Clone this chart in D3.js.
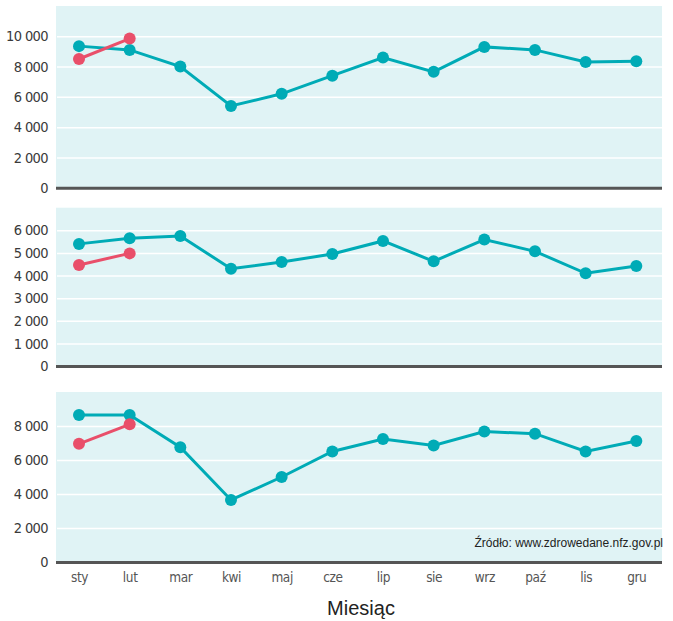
<!DOCTYPE html>
<html><head><meta charset="utf-8">
<script src="https://cdn.jsdelivr.net/npm/d3@7"></script>
<style>
body{margin:0;background:#fff;}
svg{display:block;}
</style></head>
<body>
<script>
const months = ["sty","lut","mar","kwi","maj","cze","lip","sie","wrz","paź","lis","gru"];
// Panel 1
const p1Teal = [9350,9100,8000,5400,6200,7400,8600,7650,9300,9100,8300,8350];
const p1Pink = [8500,9850];
const p1Ticks = [0,2000,4000,6000,8000,10000];
// Panel 2
const p2Teal = [5400,5650,5750,4300,4600,4950,5530,4630,5590,5070,4100,4420];
const p2Pink = [4470,4980];
const p2Ticks = [0,1000,2000,3000,4000,5000,6000];
// Panel 3
const p3Teal = [8650,8650,6750,3650,5000,6500,7230,6850,7670,7550,6500,7120];
const p3Pink = [6950,8100];
const p3Ticks = [0,2000,4000,6000,8000];

const panels = [
  {teal:p1Teal, pink:p1Pink, ticks:p1Ticks, max:12000, top:6, bottom:187.7},
  {teal:p2Teal, pink:p2Pink, ticks:p2Ticks, max:7000, top:207.7, bottom:366},
  {teal:p3Teal, pink:p3Pink, ticks:p3Ticks, max:10000, top:392, bottom:562}
];

const W = 673, H = 621;
const left = 56, right = 662;
const svg = d3.select("body").append("svg").attr("width",W).attr("height",H);
const fmt = d3.formatLocale({decimal:",", thousands:"\u2009", grouping:[3], currency:["",""]}).format(",d");
const fmt2 = v => fmt(v).replace("\u2009"," ");

const x = d3.scalePoint().domain(months).range([79, 636.3]);
const TEAL = "#00abb6", PINK = "#e94f6a";
const condensed = "'Liberation Sans Narrow','DejaVu Sans Condensed',sans-serif";

panels.forEach(p => {
  const y = d3.scaleLinear().domain([0,p.max]).range([p.bottom,p.top]);
  const g = svg.append("g");
  g.append("rect").attr("x",left).attr("y",p.top).attr("width",right-left).attr("height",p.bottom-p.top).attr("fill","#e0f3f5");
  const ax = d3.axisLeft(y).tickValues(p.ticks).tickSize(-(right-left)).tickFormat(fmt2);
  const axg = g.append("g").attr("transform",`translate(${left},0)`).call(ax);
  axg.select(".domain").remove();
  axg.selectAll(".tick line").attr("stroke","#fff").attr("stroke-width",1.5).attr("x1",1);
  axg.selectAll(".tick text").attr("x",-8).attr("fill","#3a3a3a")
     .style("font-family",condensed).style("font-size","14.5px").style("letter-spacing","-0.6px");
  g.append("line").attr("x1",left).attr("x2",right).attr("y1",y(0)+0.5).attr("y2",y(0)+0.5)
    .attr("stroke","#555").attr("stroke-width",3);
  const line = d3.line().x((d,i)=>x(months[i])).y(d=>y(d));
  [[p.teal,TEAL],[p.pink,PINK]].forEach(([data,col]) => {
    g.append("path").datum(data).attr("d",line).attr("fill","none").attr("stroke",col).attr("stroke-width",3);
    g.selectAll(null).data(data).enter().append("circle")
      .attr("cx",(d,i)=>x(months[i])).attr("cy",d=>y(d)).attr("r",6).attr("fill",col);
  });
});

// x-axis labels
const xa = svg.append("g").attr("transform","translate(0,566)")
  .call(d3.axisBottom(x).tickSize(0).tickPadding(6));
xa.select(".domain").remove();
xa.selectAll("text").attr("fill","#555").style("font-family",condensed).style("font-size","13.5px").style("letter-spacing","-0.4px");

svg.append("text").attr("x",361).attr("y",615).attr("text-anchor","middle")
  .style("font-family","'Liberation Sans',Arial,sans-serif").style("font-size","20px").attr("fill","#222")
  .text("Miesiąc");

svg.append("text").attr("x",663).attr("y",547).attr("text-anchor","end")
  .style("font-family","'Liberation Sans',Arial,sans-serif").style("font-size","12px").attr("fill","#222")
  .text("Źródło: www.zdrowedane.nfz.gov.pl");
</script>
</body></html>
